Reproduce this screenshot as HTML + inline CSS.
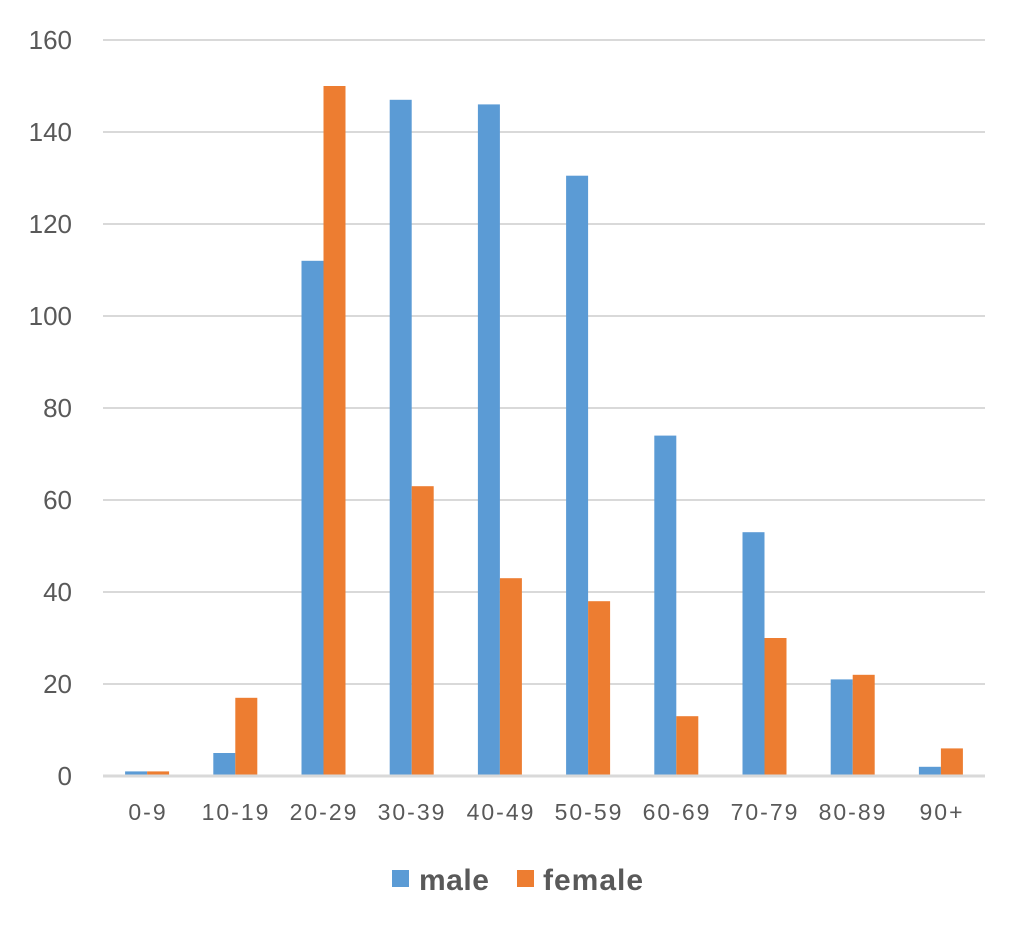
<!DOCTYPE html>
<html><head><meta charset="utf-8"><style>body{margin:0;background:#fff}svg{display:block}</style></head><body>
<svg width="1024" height="932" xmlns="http://www.w3.org/2000/svg" font-family="Liberation Sans, sans-serif">
<g stroke="#d9d9d9" stroke-width="2">
<line x1="103" x2="985" y1="40" y2="40"/><line x1="103" x2="985" y1="132" y2="132"/><line x1="103" x2="985" y1="224" y2="224"/><line x1="103" x2="985" y1="316" y2="316"/><line x1="103" x2="985" y1="408" y2="408"/><line x1="103" x2="985" y1="500" y2="500"/><line x1="103" x2="985" y1="592" y2="592"/><line x1="103" x2="985" y1="684" y2="684"/>
</g>
<g fill="#5b9bd5">
<rect x="125.1" y="771.4" width="22" height="4.6"/>
<rect x="213.3" y="753" width="22" height="23"/>
<rect x="301.5" y="260.8" width="22" height="515.2"/>
<rect x="389.7" y="99.8" width="22" height="676.2"/>
<rect x="477.9" y="104.4" width="22" height="671.6"/>
<rect x="566.1" y="175.7" width="22" height="600.3"/>
<rect x="654.3" y="435.6" width="22" height="340.4"/>
<rect x="742.5" y="532.2" width="22" height="243.8"/>
<rect x="830.7" y="679.4" width="22" height="96.6"/>
<rect x="918.9" y="766.8" width="22" height="9.2"/>
</g>
<g fill="#ed7d31">
<rect x="147.1" y="771.4" width="22" height="4.6"/>
<rect x="235.3" y="697.8" width="22" height="78.2"/>
<rect x="323.5" y="86" width="22" height="690"/>
<rect x="411.7" y="486.2" width="22" height="289.8"/>
<rect x="499.9" y="578.2" width="22" height="197.8"/>
<rect x="588.1" y="601.2" width="22" height="174.8"/>
<rect x="676.3" y="716.2" width="22" height="59.8"/>
<rect x="764.5" y="638" width="22" height="138"/>
<rect x="852.7" y="674.8" width="22" height="101.2"/>
<rect x="940.9" y="748.4" width="22" height="27.6"/>
</g>
<line x1="103" x2="985" y1="776" y2="776" stroke="#d9d9d9" stroke-width="3"/>
<g fill="#595959" font-size="26" text-anchor="end">
<text x="72" y="49">160</text><text x="72" y="141">140</text><text x="72" y="233">120</text><text x="72" y="325">100</text><text x="72" y="417">80</text><text x="72" y="509">60</text><text x="72" y="601">40</text><text x="72" y="693">20</text><text x="72" y="785">0</text>
</g>
<g fill="#595959" font-size="23" text-anchor="middle" letter-spacing="2">
<text x="148" y="820">0-9</text><text x="236" y="820">10-19</text><text x="324" y="820">20-29</text><text x="412" y="820">30-39</text><text x="501" y="820">40-49</text><text x="589" y="820">50-59</text><text x="677" y="820">60-69</text><text x="765" y="820">70-79</text><text x="853" y="820">80-89</text><text x="942" y="820">90+</text>
</g>
<rect x="392" y="870" width="17" height="17" fill="#5b9bd5"/>
<text x="419" y="890" font-size="30" font-weight="bold" fill="#595959" letter-spacing="0.5">male</text>
<rect x="517" y="870" width="17" height="17" fill="#ed7d31"/>
<text x="543" y="890" font-size="30" font-weight="bold" fill="#595959" letter-spacing="1">female</text>
</svg>
</body></html>
